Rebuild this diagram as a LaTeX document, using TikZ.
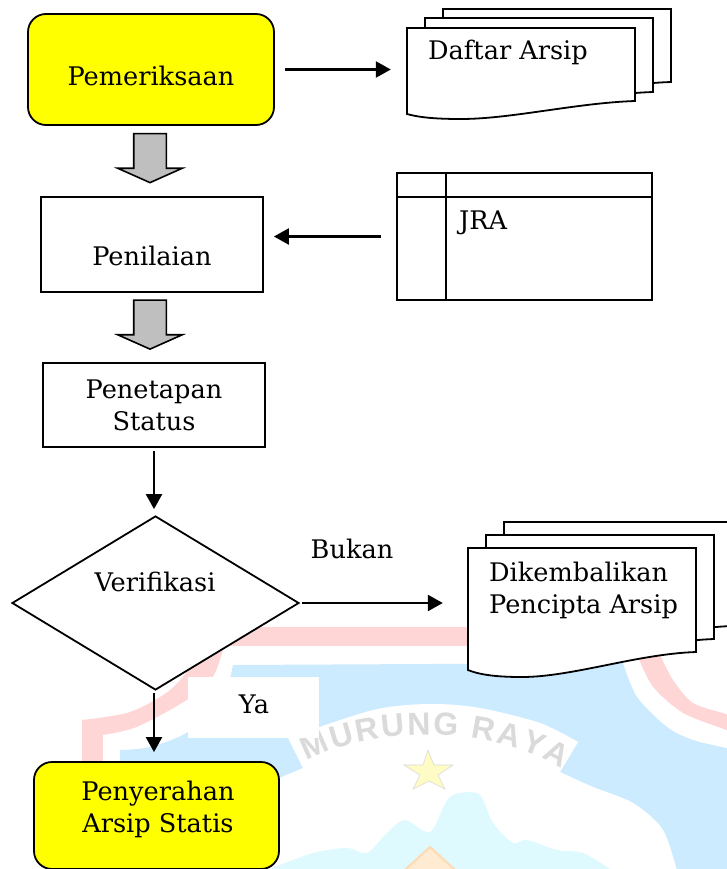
\documentclass[tikz,border=0pt]{standalone}
\usepackage{fontspec}
\setmainfont{DejaVu Serif}
\newfontfamily\wmfont{Liberation Sans}
\usetikzlibrary{shapes.geometric, shapes.arrows, arrows.meta, decorations.text}
\definecolor{wmred}{HTML}{FFD6D6}
\definecolor{wmblue}{HTML}{CCEBFF}
\definecolor{wmcyan}{HTML}{DFFAFF}
\definecolor{wmgray}{HTML}{DADADA}
\definecolor{wmstar}{HTML}{FFFBC4}
\definecolor{wmorange}{HTML}{FFEBD2}
\definecolor{boxyellow}{HTML}{FFFF00}
\definecolor{panahgray}{HTML}{BFBFBF}
\tikzset{
  sheet/.style={draw, line width=1.8pt, fill=white},
  plainbox/.style={draw, line width=1.8pt, inner sep=0pt},
  endbox/.style={plainbox, fill=boxyellow, rounded corners=18pt},
  txt/.style={font=\fontsize{25.6}{32}\selectfont, inner sep=0pt},
  flow/.style={line width=2.4pt, -{Triangle[length=15pt,width=16pt]}},
  panah/.style={single arrow, draw, line width=1.6pt, fill=panahgray, shape border rotate=270,
    inner sep=15.5pt, minimum height=49pt, minimum width=63pt, single arrow head extend=16pt,
    single arrow tip angle=132},
}
% x, top, height at the right side, sag of the lower edge
\newcommand{\docsheet}[4]{
  \begin{scope}[shift={(#1,#2)}]
    \draw[sheet] (0,0) -- (228,0) -- (228,#3)
      .. controls (169,#3+2) and (104,#3+#4) .. (54,#3+#4)
      .. controls (34,#3+#4) and (14,#3+.95*#4) .. (0,#3+.72*#4) -- cycle;
  \end{scope}
}
\begin{document}
\begin{tikzpicture}[x=1pt, y=-1pt]
  \useasboundingbox (0,0) rectangle (726,869);
  % watermark
  \fill[wmred] (82,880) -- (82,720) -- plot[smooth] coordinates {(82,720) (130,712) (170,690) (195,660) (207,627)}
    -- (650,627) -- plot[smooth] coordinates {(660,655) (673,680) (693,703) (726,714) (740,720)} -- (740,880) -- cycle;
  \fill[white] (103,880) -- plot[smooth] coordinates {(103,735) (137,727) (187,700) (213,677) (224,646)}
    -- (638,646) -- plot[smooth] coordinates {(638,657) (653,687) (683,713) (726,730) (740,736)} -- (740,880) -- cycle;
  \fill[wmblue] (120,880) -- plot[smooth] coordinates {(120,750) (150,747) (188,732) (222,700) (233,665)}
    -- plot[smooth] coordinates {(623,663) (637,697) (667,727) (693,740) (726,748) (740,752)} -- (740,880) -- cycle;
  \fill[white] (270,782) -- (303,768) -- plot[smooth] coordinates {(288,738) (373,710) (430,704) (480,708) (540,723) (578,742)}
    -- plot[smooth] coordinates {(560,772) (593,787) (633,803) (663,830) (678,875)} -- (270,875) -- cycle;
  \fill[wmcyan] plot[smooth] coordinates {(270,869) (313,853) (347,848) (367,853) (387,833) (405,820) (430,832)
    (447,800) (460,793) (480,795) (493,823) (513,843) (527,840) (557,850) (583,853) (610,869)} -- (610,880) -- (270,880) -- cycle;
  \filldraw[fill=wmorange, draw=orange!30, line width=2pt] (430,847) -- (396,878) -- (464,878) -- cycle;
  \filldraw[fill=wmstar, draw=wmgray, line width=.6pt] (428,750) -- (434,765) -- (453,765) -- (438,775) -- (445,789)
    -- (429,781) -- (413,789) -- (420,775) -- (404,765) -- (423,765) -- cycle;
  \path[decorate, decoration={text along path, text align=fit to path,
    text={|\wmfont\bfseries\fontsize{32}{32}\selectfont\color{wmgray}|MURUNG RAYA}}]
    (307,761) .. controls (375,724) and (495,726) .. (562,769);

  \node[endbox, minimum width=246pt, minimum height=111pt] (pem) at (151,69.5) {};
  \node[plainbox, minimum width=222pt, minimum height=95pt] (pen) at (152,244.5) {};
  \node[plainbox, minimum width=222pt, minimum height=84pt] (pnt) at (154,405) {};
  \node[plainbox, fill=white, diamond, minimum width=287pt, minimum height=174pt] (ver) at (155.5,603) {};
  \node[endbox, minimum width=245pt, minimum height=107pt] (pyr) at (156.5,815.5) {};
  \node[plainbox, minimum width=255pt, minimum height=127pt] (jra) at (524.5,236.5) {};
  \node[fill=white, inner sep=0pt, minimum width=131pt, minimum height=61pt] (ya) at (253.5,707.5) {};
  \node[panah] (panaha) at (150,154.5) {};
  \node[panah] (panahb) at (150,321) {};

  \draw[plainbox] (jra.north west) ++(0,25) -- ++(255,0);
  \draw[plainbox] (jra.north west) ++(50,0) -- ++(0,127);

  \docsheet{443}{9}{73}{18}
  \docsheet{425}{18}{74}{18}
  \docsheet{407}{28}{73}{18}
  \docsheet{504}{522}{104}{25}
  \docsheet{486}{535}{104}{25}
  \docsheet{468}{548}{104}{25}
  \node[inner sep=0pt, minimum width=228pt, minimum height=86pt] (daftar) at (521,71) {};
  \node[inner sep=0pt, minimum width=228pt, minimum height=121pt] (kembali) at (582,608.5) {};

  \node[txt, anchor=base] (pemlbl) at (151,86) {Pemeriksaan};
  \node[txt, anchor=base] (penlbl) at (152,265) {Penilaian};
  \node[txt, align=center] (pntlbl) at (154,405) {Penetapan\\Status};
  \node[txt, anchor=base] (verlbl) at (155,591) {Verifikasi};
  \node[txt, anchor=base] (yalbl) at (254,713) {Ya};
  \node[txt, align=center] (pyrlbl) at (158,809.5) {Penyerahan\\Arsip Statis};
  \node[txt, anchor=base] (buklbl) at (352,558) {Bukan};
  \node[txt, anchor=base west] (jralbl) at (459,229) {JRA};
  \node[txt, anchor=base west] (daflbl) at (428,60) {Daftar Arsip};
  \node[txt, align=left, anchor=west] (kemlbl) at (489,590) {Dikembalikan\\Pencipta Arsip};

  \draw[flow, shorten <=10pt, shorten >=16pt] (pem.east) -- (pem.east -| daftar.west);
  \draw[flow, shorten <=15pt, shorten >=10pt] (jra.west) -- (jra.west -| pen.east);
  \draw[flow, shorten <=3pt, shorten >=6pt] (pnt.south) -- (pnt.south |- ver.north);
  \draw[flow, shorten <=2pt, shorten >=25pt] (ver.east) -- (ver.east -| kembali.west);
  \draw[flow, shorten <=2pt, shorten >=9pt] (pnt.south |- ver.south) -- (pnt.south |- pyr.north);
\end{tikzpicture}
\end{document}
